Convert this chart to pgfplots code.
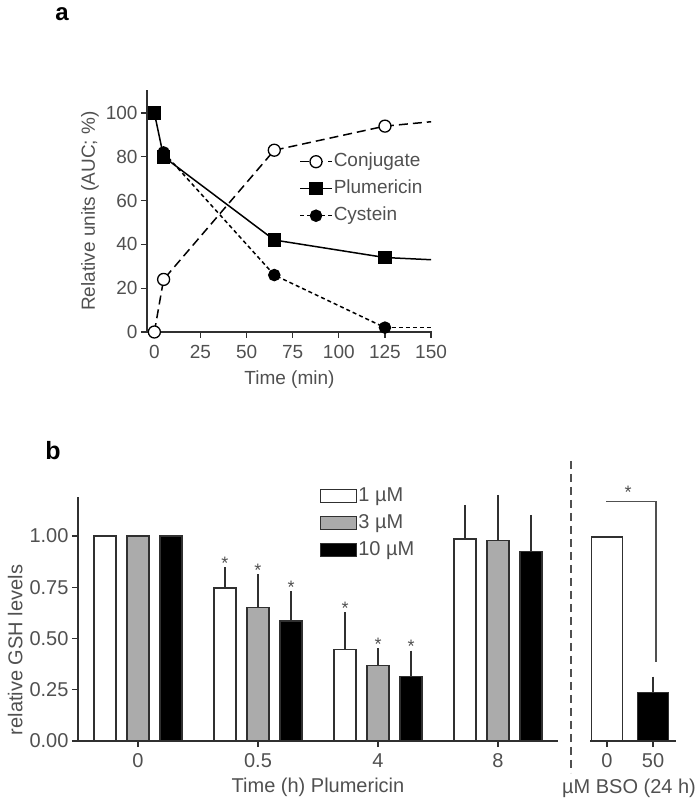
\documentclass[border=0pt]{standalone}
\usepackage{pgfplots}
\pgfplotsset{compat=1.18}
\usepackage{fontspec}
\setmainfont{Liberation Sans}
\definecolor{txt}{HTML}{505050}
\definecolor{axc}{HTML}{303030}
\definecolor{barg}{HTML}{ABABAB}
\begin{document}
\begin{tikzpicture}
\useasboundingbox (0pt,0pt) rectangle (700pt,803pt);
\node[font=\fontsize{24}{28}\selectfont\bfseries, anchor=center] at (62pt,789pt) {a};
\node[font=\fontsize{25}{28}\selectfont\bfseries, anchor=center] at (53pt,352pt) {b};
% ---------------- panel a ----------------
\begin{axis}[
  at={(147pt,471pt)}, anchor=south west,
  scale only axis, width=285pt, height=242pt,
  xmin=-4, xmax=150.5, ymin=0, ymax=110.5,
  axis x line*=bottom, axis y line*=left,
  axis line style={-, line width=1.2pt, color=axc},
  xtick={0,25,...,150}, ytick={0,20,...,100},
  tick align=outside, major tick length=6pt,
  tick style={line width=1.2pt, color=axc},
  /pgf/number format/assume math mode=true,
  ticklabel style={font=\fontsize{19}{22}\selectfont, color=txt},
  xticklabel style={yshift=-4pt},
  label style={font=\fontsize{19}{22}\selectfont, color=txt},
  xlabel={Time (min)}, ylabel={Relative units (AUC; \%)},
  xlabel style={yshift=-5pt},
  clip=false,
  legend style={at={(0.523,0.752)}, anchor=north west, draw=none, fill=none,
    font=\fontsize{19}{22}\selectfont, text=txt, row sep=8pt,
    nodes={inner sep=1pt, text height=13pt, text depth=4pt}},
  legend cell align=left,
  legend image code/.code={\draw[mark repeat=2,mark phase=2,#1] plot coordinates {(0pt,0pt) (16pt,0pt) (32pt,0pt)};},
]
\addplot[black, line width=1.5pt, dash pattern=on 9pt off 5pt, mark=*, mark size=6pt, mark options={solid, fill=white, line width=1.3pt}]
  coordinates {(0,0) (5,24) (65,83) (125,94)};
\addlegendentry{Conjugate}
\addplot[black, line width=1.5pt, mark=square*, mark size=6pt, mark options={solid}]
  coordinates {(0,100) (5,80) (65,42) (125,34)};
\addlegendentry{Plumericin}
\addplot[black, line width=1.5pt, dash pattern=on 4pt off 3pt, mark=*, mark size=5.5pt, mark options={solid}]
  coordinates {(5,82) (65,26) (125,2)};
\addlegendentry{Cystein}
\addplot[forget plot, black, line width=1.5pt, dash pattern=on 9pt off 5pt] coordinates {(125,94) (150,96)};
\addplot[forget plot, black, line width=1.5pt] coordinates {(125,34) (150,33)};
\addplot[forget plot, black, line width=1.5pt, dash pattern=on 4pt off 3pt] coordinates {(125,2) (150,2)};
\end{axis}
% ---------------- panel b, main ----------------
\begin{axis}[
  at={(78pt,62pt)}, anchor=south west,
  scale only axis, width=480pt, height=244pt,
  xmin=-0.5, xmax=3.5, ymin=0, ymax=1.19,
  axis x line*=bottom, axis y line*=left,
  axis line style={-, line width=1.2pt, color=axc},
  xtick={0,1,2,3}, xticklabels={0,0.5,4,8},
  ytick={0,0.25,0.5,0.75,1},
  yticklabel style={/pgf/number format/.cd, fixed, fixed zerofill, precision=2},
  tick align=outside, major tick length=6pt,
  tick style={line width=1.2pt, color=axc},
  /pgf/number format/assume math mode=true,
  ticklabel style={font=\fontsize{20}{23}\selectfont, color=txt},
  xticklabel style={yshift=-3pt},
  label style={font=\fontsize{20}{23}\selectfont, color=txt},
  xlabel={Time (h) Plumericin}, ylabel={relative GSH levels},
  xlabel style={yshift=-3pt},
  ylabel style={at={(ticklabel cs:0.373)}},
  clip=false,
  ybar, bar width=22pt,
  error bars/error bar style={line width=1.2pt, color=axc},
  error bars/error mark options={line width=1.2pt, color=axc, mark size=5pt},
  legend style={at={(0.498,1.053)}, anchor=north west, draw=none, fill=none,
    font=\fontsize{20}{23}\selectfont, text=txt, row sep=7pt,
    nodes={inner sep=1pt, text height=14pt, text depth=4pt}},
  legend cell align=left,
  legend image code/.code={\draw[#1, line width=1.1pt] (0pt,-6.5pt) rectangle (36pt,6.5pt);},
]
\addplot[fill=white, draw=axc, line width=1.1pt, bar shift=-33pt,
  error bars/.cd, y dir=plus, y explicit]
  coordinates {(1,0.746) +- (0,0.078) (2,0.448) +- (0,0.156) (3,0.985) +- (0,0.142)};
\addlegendentry{1 µM}
\addplot[fill=barg, draw=axc, line width=1.1pt, bar shift=0pt,
  error bars/.cd, y dir=plus, y explicit]
  coordinates {(1,0.65) +- (0,0.14) (2,0.367) +- (0,0.061) (3,0.976) +- (0,0.20)};
\addlegendentry{3 µM}
\addplot[fill=black, draw=axc, line width=1.1pt, bar shift=33pt,
  error bars/.cd, y dir=plus, y explicit]
  coordinates {(1,0.585) +- (0,0.122) (2,0.314) +- (0,0.102) (3,0.922) +- (0,0.156)};
\addlegendentry{10 µM}
\addplot[forget plot, fill=white, draw=axc, line width=1.1pt, bar shift=-33pt] coordinates {(0,1)};
\addplot[forget plot, fill=barg, draw=axc, line width=1.1pt, bar shift=0pt] coordinates {(0,1)};
\addplot[forget plot, fill=black, draw=axc, line width=1.1pt, bar shift=33pt] coordinates {(0,1)};
\begin{scope}[every node/.style={font=\fontsize{18}{20}\selectfont, text=txt, anchor=base, inner sep=0pt, yshift=3pt}]
\node at (axis cs:0.725,0.824) {*};
\node at (axis cs:1,0.79) {*};
\node at (axis cs:1.275,0.707) {*};
\node at (axis cs:1.725,0.604) {*};
\node at (axis cs:2,0.428) {*};
\node at (axis cs:2.275,0.416) {*};
\end{scope}
\end{axis}
% ---------------- panel b, BSO ----------------
\begin{axis}[
  at={(590pt,62pt)}, anchor=south west,
  scale only axis, width=86pt, height=244pt,
  xmin=-0.37, xmax=1.5, ymin=0, ymax=1.19,
  axis x line*=bottom, axis y line=none,
  axis line style={-, line width=1.2pt, color=axc},
  xtick={0,1}, xticklabels={0,50}, ytick=\empty,
  tick align=outside, major tick length=6pt,
  tick style={line width=1.2pt, color=axc},
  /pgf/number format/assume math mode=true,
  ticklabel style={font=\fontsize{20}{23}\selectfont, color=txt},
  xticklabel style={yshift=-3pt},
  label style={font=\fontsize{20}{23}\selectfont, color=txt},
  xlabel={µM BSO (24 h)},
  xlabel style={yshift=-4pt, xshift=-4pt},
  clip=false,
  ybar, bar width=31pt, bar shift=0pt,
  error bars/error bar style={line width=1.2pt, color=axc},
  error bars/error mark options={line width=1.2pt, color=axc, mark size=5pt},
]
\addplot[fill=white, draw=axc, line width=1.1pt] coordinates {(0,0.995)};
\addplot[fill=black, draw=axc, line width=1.1pt, error bars/.cd, y dir=plus, y explicit]
  coordinates {(1,0.235) +- (0,0.055)};
\draw[txt, line width=1.1pt] (axis cs:-0.02,1.166) -- (axis cs:1.065,1.166) -- (axis cs:1.065,0.385);
\node[font=\fontsize{18}{20}\selectfont, text=txt, anchor=base, inner sep=0pt, yshift=3pt] at (axis cs:0.457,1.166) {*};
\end{axis}
\draw[txt, line width=1.2pt, dash pattern=on 8pt off 5pt] (571pt,342pt) -- (571pt,30pt);
\end{tikzpicture}
\end{document}
